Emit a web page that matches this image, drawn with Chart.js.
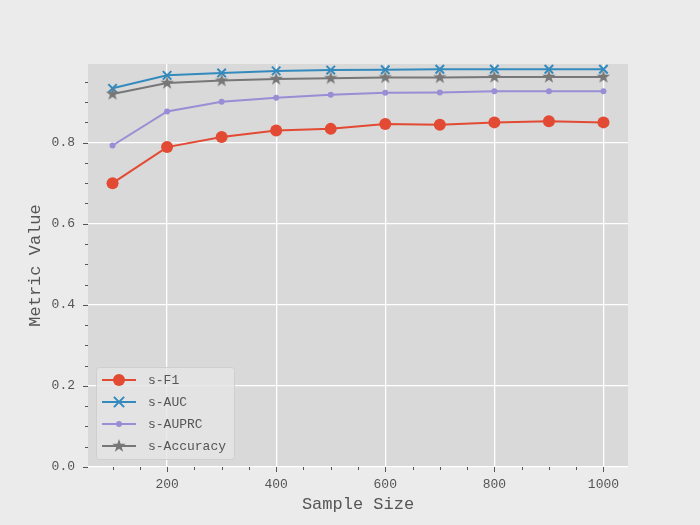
<!DOCTYPE html>
<html>
<head>
<meta charset="utf-8">
<script src="https://cdn.jsdelivr.net/npm/chart.js@4"></script>
<style>
  html, body { margin: 0; padding: 0; background: #ebebeb; }
  #wrap { width: 700px; height: 525px; }
</style>
</head>
<body>
<div id="wrap"><canvas id="metricsChart" width="700" height="525"></canvas></div>
<script>
const sampleSizes = [100, 200, 300, 400, 500, 600, 700, 800, 900, 1000];
const f1Values = [0.700, 0.789, 0.814, 0.830, 0.834, 0.846, 0.844, 0.850, 0.853, 0.850];
const aucValues = [0.934, 0.966, 0.972, 0.977, 0.979, 0.980, 0.981, 0.981, 0.981, 0.981];
const auprcValues = [0.793, 0.877, 0.901, 0.911, 0.918, 0.923, 0.924, 0.927, 0.927, 0.927];
const accuracyValues = [0.920, 0.947, 0.953, 0.957, 0.959, 0.961, 0.961, 0.962, 0.962, 0.962];
const seriesNames = ['s-F1', 's-AUC', 's-AUPRC', 's-Accuracy'];
const xMajorTicks = [200, 400, 600, 800, 1000];
const yMajorTicks = [0.0, 0.2, 0.4, 0.6, 0.8];

const FONT = "'Liberation Mono', 'DejaVu Sans Mono', monospace";
const TEXT = '#555555';

// filled star marker, matplotlib '*'
function makeStar(size, color) {
    const c = document.createElement('canvas');
    c.width = size; c.height = size;
    const g = c.getContext('2d');
    const cx = size / 2, cy = size / 2, ro = size / 2, ri = ro * 0.4;
    g.beginPath();
    for (let i = 0; i < 10; i++) {
        const r = i % 2 === 0 ? ro : ri;
        const a = -Math.PI / 2 + i * Math.PI / 5;
        g.lineTo(cx + r * Math.cos(a), cy + r * Math.sin(a));
    }
    g.closePath();
    g.fillStyle = color;
    g.fill();
    return c;
}
const starImg = makeStar(14, '#777777');

function toPoints(values) {
    return sampleSizes.map((x, i) => ({ x: x, y: values[i] }));
}

const isMajorY = v => yMajorTicks.some(t => Math.abs(t - v) < 1e-6);
const isMajorX = v => xMajorTicks.includes(Math.round(v));

const plotBg = {
    id: 'plotBg',
    beforeDraw(chart) {
        const { ctx, chartArea: a } = chart;
        ctx.save();
        ctx.fillStyle = '#ebebeb';
        ctx.fillRect(0, 0, chart.width, chart.height);
        ctx.fillStyle = '#d9d9d9';
        ctx.fillRect(a.left, a.top, a.right - a.left, a.bottom - a.top);
        ctx.restore();
    }
};

// outward tick marks, long for major, short for minor
const tickMarks = {
    id: 'tickMarks',
    afterDraw(chart) {
        const { ctx, chartArea: a, scales } = chart;
        ctx.save();
        ctx.strokeStyle = TEXT;
        ctx.lineWidth = 1;
        for (let v = 0; v <= 0.951; v += 0.05) {
            const y = Math.round(scales.y.getPixelForValue(v)) + 0.5;
            const len = isMajorY(v) ? 5 : 3;
            ctx.beginPath(); ctx.moveTo(a.left - len, y); ctx.lineTo(a.left, y); ctx.stroke();
        }
        for (let v = 100; v <= 1000; v += 50) {
            const x = Math.round(scales.x.getPixelForValue(v)) + 0.5;
            const len = isMajorX(v) ? 5 : 3;
            ctx.beginPath(); ctx.moveTo(x, a.bottom); ctx.lineTo(x, a.bottom + len); ctx.stroke();
        }
        ctx.restore();
    }
};

// matplotlib-like legend in lower left of the axes
const boxLegend = {
    id: 'boxLegend',
    afterDraw(chart) {
        const { ctx, chartArea: a } = chart;
        const x0 = a.left + 8, y1 = a.bottom - 8;
        const w = 138, h = 92, y0 = y1 - h;
        ctx.save();
        ctx.fillStyle = 'rgba(229,229,229,0.8)';
        ctx.strokeStyle = '#cfcfcf';
        ctx.lineWidth = 1;
        ctx.beginPath();
        ctx.roundRect(x0 + 0.5, y0 + 0.5, w, h, 3);
        ctx.fill(); ctx.stroke();
        ctx.font = '13px ' + FONT;
        ctx.textBaseline = 'middle';
        chart.data.datasets.forEach((ds, i) => {
            const cy = y0 + 13 + i * 22;
            ctx.strokeStyle = ds.borderColor;
            ctx.lineWidth = 2;
            ctx.beginPath(); ctx.moveTo(x0 + 6, cy); ctx.lineTo(x0 + 40, cy); ctx.stroke();
            const mx = x0 + 23;
            if (ds.pointStyle === 'circle') {
                ctx.fillStyle = ds.pointBackgroundColor;
                ctx.beginPath(); ctx.arc(mx, cy, ds.pointRadius, 0, Math.PI * 2); ctx.fill();
            } else if (ds.pointStyle === 'crossRot') {
                const r = ds.pointRadius * 0.85;
                ctx.beginPath();
                ctx.moveTo(mx - r, cy - r); ctx.lineTo(mx + r, cy + r);
                ctx.moveTo(mx - r, cy + r); ctx.lineTo(mx + r, cy - r);
                ctx.stroke();
            } else {
                ctx.drawImage(starImg, mx - 7, cy - 7);
            }
            ctx.fillStyle = TEXT;
            ctx.fillText(ds.label, x0 + 52, cy + 1);
        });
        ctx.restore();
    }
};

new Chart(document.getElementById('metricsChart'), {
    type: 'line',
    data: {
        datasets: [
            {
                label: seriesNames[0], data: toPoints(f1Values), order: 4,
                borderColor: '#E24A33', backgroundColor: '#E24A33', borderWidth: 2,
                pointStyle: 'circle', pointRadius: 6, pointBackgroundColor: '#E24A33', pointBorderWidth: 0
            },
            {
                label: seriesNames[1], data: toPoints(aucValues), order: 3,
                borderColor: '#348ABD', backgroundColor: '#348ABD', borderWidth: 2,
                pointStyle: 'crossRot', pointRadius: 6, pointBorderColor: '#348ABD', pointBorderWidth: 2
            },
            {
                label: seriesNames[2], data: toPoints(auprcValues), order: 2,
                borderColor: '#988ED5', backgroundColor: '#988ED5', borderWidth: 2,
                pointStyle: 'circle', pointRadius: 3, pointBackgroundColor: '#988ED5', pointBorderWidth: 0
            },
            {
                label: seriesNames[3], data: toPoints(accuracyValues), order: 1,
                borderColor: '#777777', backgroundColor: '#777777', borderWidth: 2,
                pointStyle: starImg, pointRadius: 7
            }
        ]
    },
    options: {
        responsive: false,
        animation: false,
        layout: { padding: { left: 0, top: 64, right: 72, bottom: 0 } },
        plugins: {
            legend: { display: false },
            tooltip: { enabled: false }
        },
        scales: {
            x: {
                type: 'linear',
                min: 55, max: 1045,
                afterFit: s => { s.height = 58; },
                border: { display: false },
                grid: {
                    drawTicks: false,
                    lineWidth: 1.3,
                    color: c => isMajorX(c.tick.value) ? '#ffffff' : 'rgba(0,0,0,0)'
                },
                ticks: {
                    stepSize: 50, includeBounds: false, autoSkip: false, maxRotation: 0,
                    padding: 10, color: TEXT, font: { family: FONT, size: 13 },
                    callback: v => isMajorX(v) ? String(v) : ''
                },
                title: {
                    display: true, text: 'Sample Size', color: TEXT,
                    font: { family: FONT, size: 17 }, padding: { top: 0, bottom: 10 }
                }
            },
            y: {
                min: 0, max: 0.994,
                afterFit: s => { s.width = 88; },
                border: { display: false },
                grid: {
                    drawTicks: false,
                    lineWidth: 1.3,
                    color: c => isMajorY(c.tick.value) ? '#ffffff' : 'rgba(0,0,0,0)'
                },
                ticks: {
                    stepSize: 0.05, includeBounds: false, autoSkip: false,
                    padding: 13, color: TEXT, font: { family: FONT, size: 13 },
                    callback: v => isMajorY(v) ? v.toFixed(1) : ''
                },
                title: {
                    display: true, text: 'Metric Value', color: TEXT,
                    font: { family: FONT, size: 17 }, padding: { top: 25, bottom: 0 }
                }
            }
        }
    },
    plugins: [plotBg, tickMarks, boxLegend]
});
</script>
</body>
</html>
